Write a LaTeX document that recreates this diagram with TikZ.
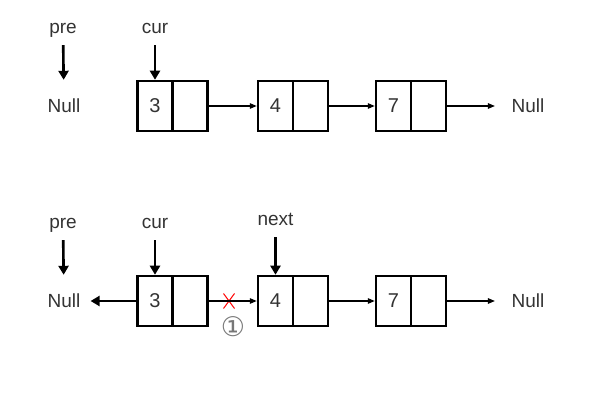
\documentclass[tikz,border=0pt]{standalone}
\usepackage{fontspec}
\setmainfont{Liberation Sans}
\newfontfamily\symfont{DejaVu Sans}
\usepackage{xcolor}
\usetikzlibrary{arrows.meta,shapes.misc}
\definecolor{C333333}{HTML}{333333}
\definecolor{C777777}{HTML}{777777}
\definecolor{CFF0000}{HTML}{FF0000}
\tikzset{
  cell/.style={minimum height=50pt, minimum width=35pt, inner sep=0pt, draw, line width=2.5pt, text=C333333, font=\fontsize{20}{22}\selectfont},
  word/.style={inner sep=0pt, text height=12pt, text depth=4pt, text=C333333, font=\fontsize{19}{21}\selectfont},
  nullw/.style={inner sep=0pt, text height=13pt, text depth=0pt, text=C333333, font=\fontsize{19}{21}\selectfont},
  link/.style={-{Triangle[length=7pt,width=5.5pt]}, line width=1.2pt},
  ptr/.style={-{Triangle[length=9pt,width=10pt]}, line width=2.6pt}
}

\begin{document}
\begin{tikzpicture}[inner sep=0pt]
\useasboundingbox (0pt,0pt) rectangle (614pt,-401pt);
\node (n0) [cell, at={(155pt,-106pt)}] {3};
\node (n1) [cell, at={(190pt,-106pt)}] {};
\node (n2) [cell, at={(275.5pt,-106pt)}] {4};
\node (n3) [cell, at={(310.5pt,-106pt)}] {};
\node (n4) [cell, at={(393.5pt,-106pt)}] {7};
\node (n5) [cell, at={(428.5pt,-106pt)}] {};
\node (nl) [nullw, at={(64pt,-106pt)}] {Null};
\node (nr) [nullw, at={(528pt,-106pt)}] {Null};
\node (npre) [word, at={(63pt,-30pt)}] {pre};
\node (ncur) [word, at={(155pt,-30pt)}] {cur};
\path [link,draw] (n1)--(n2);
\path [link,draw] (n3)--(n4);
\path [link,draw,shorten >=16.5pt] (n5)--(nr);
\path [ptr,draw,shorten <=7pt,shorten >=19.5pt] (npre)--(nl);
\path [ptr,draw,shorten <=7pt] (ncur)--(n0);
\node (m0) [cell, at={(155pt,-301pt)}] {3};
\node (m1) [cell, at={(190pt,-301pt)}] {};
\node (m2) [cell, at={(275.5pt,-301pt)}] {4};
\node (m3) [cell, at={(310.5pt,-301pt)}] {};
\node (m4) [cell, at={(393.5pt,-301pt)}] {7};
\node (m5) [cell, at={(428.5pt,-301pt)}] {};
\node (ml) [nullw, at={(64pt,-301pt)}] {Null};
\node (mr) [nullw, at={(528pt,-301pt)}] {Null};
\node (mpre) [word, at={(63pt,-225pt)}] {pre};
\node (mcur) [word, at={(155pt,-225pt)}] {cur};
\node (mnext) [word, at={(275.5pt,-222pt)}] {next};
\node (mx) [cross out, draw=CFF0000, line width=1pt, minimum width=10pt, minimum height=14pt, at={(229pt,-301pt)}] {};
\node (m12) [text=C777777, font=\symfont\fontsize{27}{29}\selectfont, at={(233pt,-327pt)}] {①};
\path [ptr,draw,shorten >=10pt] (m0)--(ml);
\path [link,draw] (m1)--(m2);
\path [link,draw] (m3)--(m4);
\path [link,draw,shorten >=16.5pt] (m5)--(mr);
\path [ptr,draw,shorten <=7pt,shorten >=19.5pt] (mpre)--(ml);
\path [ptr,draw,shorten <=7pt] (mcur)--(m0);
\path [ptr,draw,shorten <=7pt] (mnext)--(m2);
\end{tikzpicture}
\end{document}
